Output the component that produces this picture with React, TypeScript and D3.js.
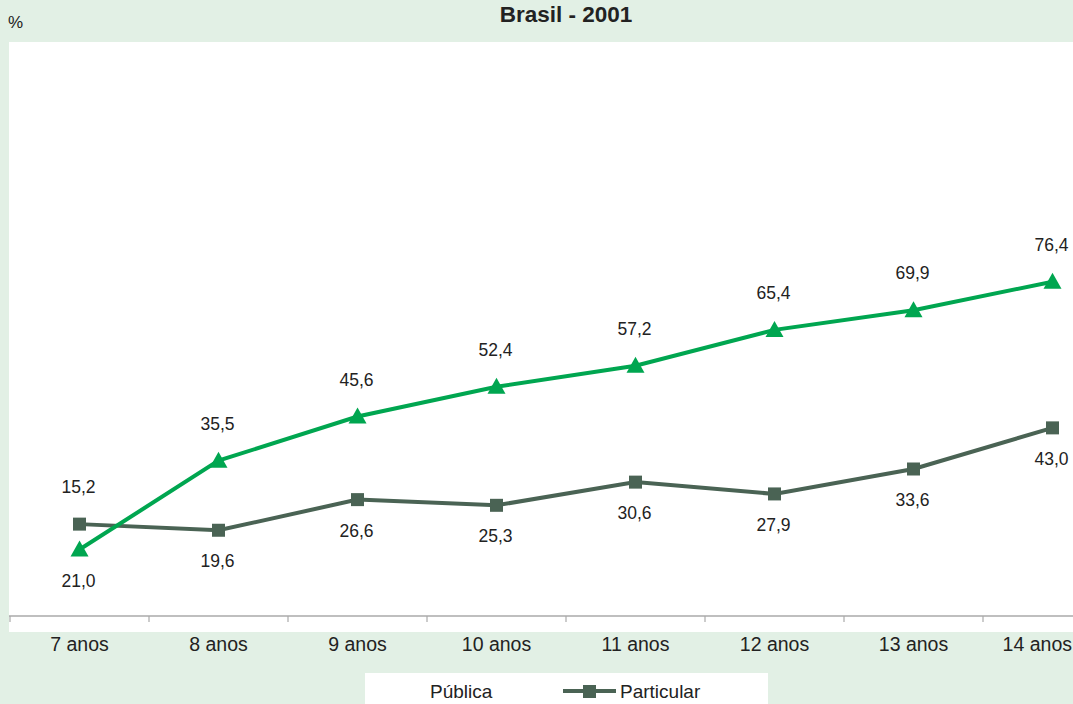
import * as d3 from "d3";

const categories = ["7 anos", "8 anos", "9 anos", "10 anos", "11 anos", "12 anos", "13 anos", "14 anos"];
const publica = [15.2, 35.5, 45.6, 52.4, 57.2, 65.4, 69.9, 76.4];
const particular = [21.0, 19.6, 26.6, 25.3, 30.6, 27.9, 33.6, 43.0];

const W = 1073;
const H = 704;
const GREEN = "#00a650";
const GRAY = "#4a6354";
const BG = "#e2f0e5";
const FONT = "'Liberation Sans', Arial, sans-serif";

const fmt = (v: number) => v.toFixed(1).replace(".", ",");

export default function App() {
  const x = d3.scaleBand<string>().domain(categories).range([10, 1122]).paddingInner(0).paddingOuter(0);
  const y = d3.scaleLinear().domain([0, 80]).range([616, 266]);
  const cx = (i: number) => (x(categories[i]) as number) + x.bandwidth() / 2;

  const line = d3
    .line<number>()
    .x((_, i) => cx(i))
    .y((d) => y(d));

  const boundaries = categories.map((c) => x(c) as number).concat([(x(categories[categories.length - 1]) as number) + x.bandwidth()]);

  return (
    <svg width={W} height={H} style={{ position: "absolute", left: 0, top: 0 }} fontFamily={FONT}>
      <rect x={0} y={0} width={W} height={H} fill={BG} />
      <rect x={9} y={42} width={W - 9} height={590} fill="#ffffff" />
      <text x={8} y={28} fontSize={17} fill="#222">%</text>
      <text x={566} y={22} fontSize={22.5} fontWeight="bold" textAnchor="middle" fill="#222">Brasil - 2001</text>

      {/* axis */}
      <line x1={9} x2={W} y1={y(0)} y2={y(0)} stroke="#aaaaaa" strokeWidth={1.5} />
      {boundaries.map((b, i) => (
        <line key={i} x1={b} x2={b} y1={y(0)} y2={y(0) + 6} stroke="#aaaaaa" strokeWidth={1.2} />
      ))}
      {categories.map((c, i) => {
        const last = cx(i) + 35 > W;
        return (
          <text key={c} x={last ? W - 1 : cx(i)} y={651} fontSize={19.5} textAnchor={last ? "end" : "middle"} fill="#222">
            {c}
          </text>
        );
      })}

      {/* lines */}
      <path d={line(particular) as string} fill="none" stroke={GRAY} strokeWidth={4} />
      <path d={line(publica) as string} fill="none" stroke={GREEN} strokeWidth={4} />

      {particular.map((v, i) => (
        <rect key={"p" + i} x={cx(i) - 6.5} y={y(v) - 6.5} width={13} height={13} fill={GRAY} />
      ))}
      {publica.map((v, i) => {
        const px = cx(i);
        const py = y(v);
        return <path key={"g" + i} d={`M${px},${py - 9}L${px + 9},${py + 7}L${px - 9},${py + 7}Z`} fill={GREEN} />;
      })}

      {/* labels */}
      {publica.map((v, i) => {
        const top = Math.min(y(v), y(particular[i]));
        return (
          <text key={"lg" + i} x={cx(i) - 1} y={top - 37} dy="0.35em" fontSize={17.5} textAnchor="middle" fill="#222">
            {fmt(v)}
          </text>
        );
      })}
      {particular.map((v, i) => {
        const bottom = Math.max(y(v), y(publica[i]));
        return (
          <text key={"lp" + i} x={cx(i) - 1} y={bottom + 31} dy="0.35em" fontSize={17.5} textAnchor="middle" fill="#222">
            {fmt(particular[i])}
          </text>
        );
      })}

      {/* legend */}
      <rect x={365} y={673} width={403} height={40} fill="#ffffff" />
      <text x={430} y={698} fontSize={19} fill="#222">Pública</text>
      <line x1={563} x2={616} y1={691} y2={691} stroke={GRAY} strokeWidth={4} />
      <rect x={583} y={685} width={13} height={13} fill={GRAY} />
      <text x={620} y={698} fontSize={19} fill="#222">Particular</text>
    </svg>
  );
}
